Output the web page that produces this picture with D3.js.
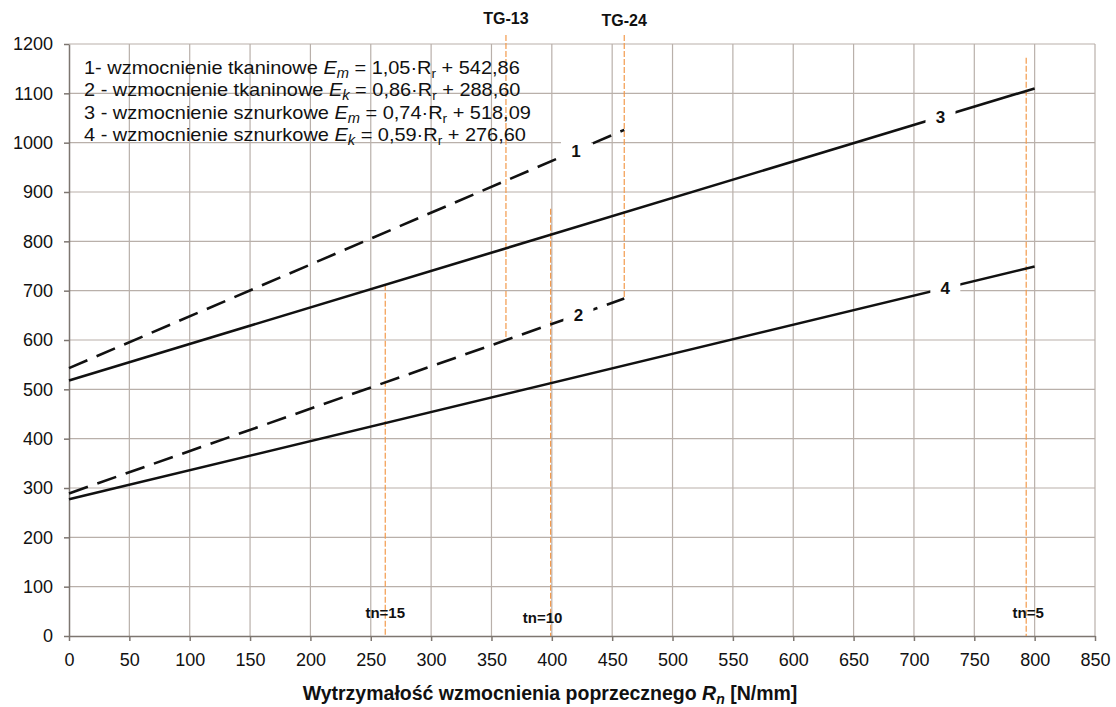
<!DOCTYPE html>
<html>
<head>
<meta charset="utf-8">
<script src="https://cdn.jsdelivr.net/npm/d3@7"></script>
<style>
  body { margin: 0; background: #fff; }
  svg { font-family: "Liberation Sans", Arial, sans-serif; }
</style>
</head>
<body>
<script>
// line series: value at R=0 and at the end of each line
var seriesIds = ["1", "2", "3", "4"];
var seriesStartR = [0, 0, 0, 0];
var seriesStartE = [543, 289, 518, 277];
var seriesEndR = [460, 460, 800, 800];
var seriesEndE = [1026, 684, 1110, 749];
var seriesLabelR = [420, 422, 722, 726];

// legend texts
var legendPrefix = ["1- wzmocnienie tkaninowe ", "2 - wzmocnienie tkaninowe ",
                    "3 - wzmocnienie sznurkowe ", "4 - wzmocnienie sznurkowe "];
var legendSub = ["m", "k", "m", "k"];
var legendCoef = ["1,05", "0,86", "0,74", "0,59"];
var legendConst = ["542,86", "288,60", "518,09", "276,60"];

// orange marker lines
var markerLabels = ["TG-13", "TG-24", "tn=15", "tn=10", "tn=5"];
var markerR = [362, 460, 262, 399, 793];
var markerTop = [1218, 1218, 712, 866, 1172];
var markerBottom = [600, 684, 0, 0, 0];

var xTicks = d3.range(0, 851, 50);
var yTicks = d3.range(0, 1201, 100);

window.onload = function(){
    var w = 1116, h = 707;
    var svg = d3.select("body").append("svg")
        .attr("width", w)
        .attr("height", h);

    var x = d3.scaleLinear().domain([0, 850]).range([69, 1095]);
    var y = d3.scaleLinear().domain([0, 1200]).range([636, 44]);

//grid
    svg.append("g").selectAll("line")
        .data(xTicks.slice(1))
        .enter().append("line")
        .attr("x1", function(d){ return x(d); })
        .attr("x2", function(d){ return x(d); })
        .attr("y1", y(0))
        .attr("y2", y(1200))
        .style("stroke", "#b9b0aa")
        .style("stroke-width", 1.2);
    svg.append("g").selectAll("line")
        .data(yTicks.slice(1))
        .enter().append("line")
        .attr("x1", x(0))
        .attr("x2", x(850))
        .attr("y1", function(d){ return y(d); })
        .attr("y2", function(d){ return y(d); })
        .style("stroke", "#b9b0aa")
        .style("stroke-width", 1.2);

//axes
    var xAxis = svg.append("g")
        .attr("transform", "translate(0," + y(0) + ")")
        .call(d3.axisBottom(x).tickValues(xTicks).tickFormat(d3.format("d"))
            .tickSize(5).tickSizeOuter(0).tickPadding(12));
    var yAxis = svg.append("g")
        .attr("transform", "translate(" + x(0) + ",0)")
        .call(d3.axisLeft(y).tickValues(yTicks).tickFormat(d3.format("d"))
            .tickSize(5).tickSizeOuter(0).tickPadding(11));
    [xAxis, yAxis].forEach(function(a){
        a.select(".domain").style("stroke", "#7d7670").style("stroke-width", 1.5);
        a.selectAll(".tick line").style("stroke", "#7d7670").style("stroke-width", 1.5);
        a.selectAll("text").style("font-size", "18px").style("fill", "#111")
            .style("font-family", "'Liberation Sans', Arial, sans-serif");
    });

//orange marker lines
    svg.append("g").selectAll("line")
        .data(markerLabels)
        .enter().append("line")
        .attr("x1", function(d, i){ return x(markerR[i]); })
        .attr("x2", function(d, i){ return x(markerR[i]); })
        .attr("y1", function(d, i){ return y(markerTop[i]); })
        .attr("y2", function(d, i){ return y(markerBottom[i]); })
        .style("stroke", "#f39a4c")
        .style("stroke-width", 1.2)
        .style("stroke-dasharray", "6,2");

    svg.append("g").selectAll("text")
        .data(markerLabels)
        .enter().append("text")
        .attr("text-anchor", "middle")
        .attr("x", function(d, i){ return x(markerR[i]) + (d == "tn=10" ? -8 : (d == "tn=5" ? 2 : 0)); })
        .attr("y", function(d, i){
            if (d.indexOf("TG") == 0) return d == "TG-13" ? 24 : 26;
            return d == "tn=10" ? 623 : 618;
        })
        .style("font-size", function(d){ return d.indexOf("TG") == 0 ? "16px" : "15px"; })
        .style("font-weight", "bold")
        .style("fill", "#111")
        .text(function(d){ return d; });

//series lines
    var lines = svg.append("g").selectAll("line")
        .data(seriesIds)
        .enter().append("line")
        .attr("x1", function(d, i){ return x(seriesStartR[i]); })
        .attr("y1", function(d, i){ return y(seriesStartE[i]); })
        .attr("x2", function(d, i){ return x(seriesEndR[i]); })
        .attr("y2", function(d, i){ return y(seriesEndE[i]); })
        .style("stroke", "#111")
        .style("stroke-width", 2.6)
        .style("stroke-dasharray", function(d, i){ return i < 2 ? "20,10" : null; });

//series labels with a white gap behind them
    function lineE(i, r){
        var t = (r - seriesStartR[i]) / (seriesEndR[i] - seriesStartR[i]);
        return seriesStartE[i] + t * (seriesEndE[i] - seriesStartE[i]);
    }
    var lab = svg.append("g").selectAll("g")
        .data(seriesIds)
        .enter().append("g")
        .attr("transform", function(d, i){
            return "translate(" + x(seriesLabelR[i]) + "," + y(lineE(i, seriesLabelR[i])) + ")";
        });
    lab.append("rect")
        .attr("x", -15).attr("y", -13)
        .attr("width", 30).attr("height", 26)
        .style("fill", "#fff");
    lab.append("text")
        .attr("text-anchor", "middle")
        .attr("y", 6)
        .style("font-size", "17px")
        .style("font-weight", "bold")
        .style("fill", "#111")
        .text(function(d){ return d; });

//legend (slightly stretched sideways like the scanned original)
    var leg = svg.append("g")
        .attr("transform", "translate(84,0) scale(1.05,1)")
        .selectAll("text")
        .data(legendPrefix)
        .enter().append("text")
        .attr("x", 0)
        .attr("y", function(d, i){ return 74 + i * 22.3; })
        .style("font-size", "19px")
        .style("fill", "#111");
    leg.append("tspan").text(function(d){ return d; });
    leg.append("tspan").style("font-style", "italic").text("E");
    leg.append("tspan").style("font-style", "italic").style("font-size", "14px")
        .attr("dy", 4).text(function(d, i){ return legendSub[i]; });
    leg.append("tspan").attr("dy", -4)
        .text(function(d, i){ return " = " + legendCoef[i] + "·R"; });
    leg.append("tspan").style("font-size", "13px").attr("dy", 4).text("r");
    leg.append("tspan").attr("dy", -4)
        .text(function(d, i){ return " + " + legendConst[i]; });

//axis title
    var title = svg.append("text")
        .attr("x", 550)
        .attr("y", 700)
        .attr("text-anchor", "middle")
        .style("font-size", "19.5px")
        .style("font-weight", "bold")
        .style("fill", "#111");
    title.append("tspan").text("Wytrzymałość wzmocnienia poprzecznego ");
    title.append("tspan").style("font-style", "italic").text("R");
    title.append("tspan").style("font-style", "italic").style("font-size", "14px").attr("dy", 4).text("n");
    title.append("tspan").attr("dy", -4).text(" [N/mm]");
};
</script>
</body>
</html>
